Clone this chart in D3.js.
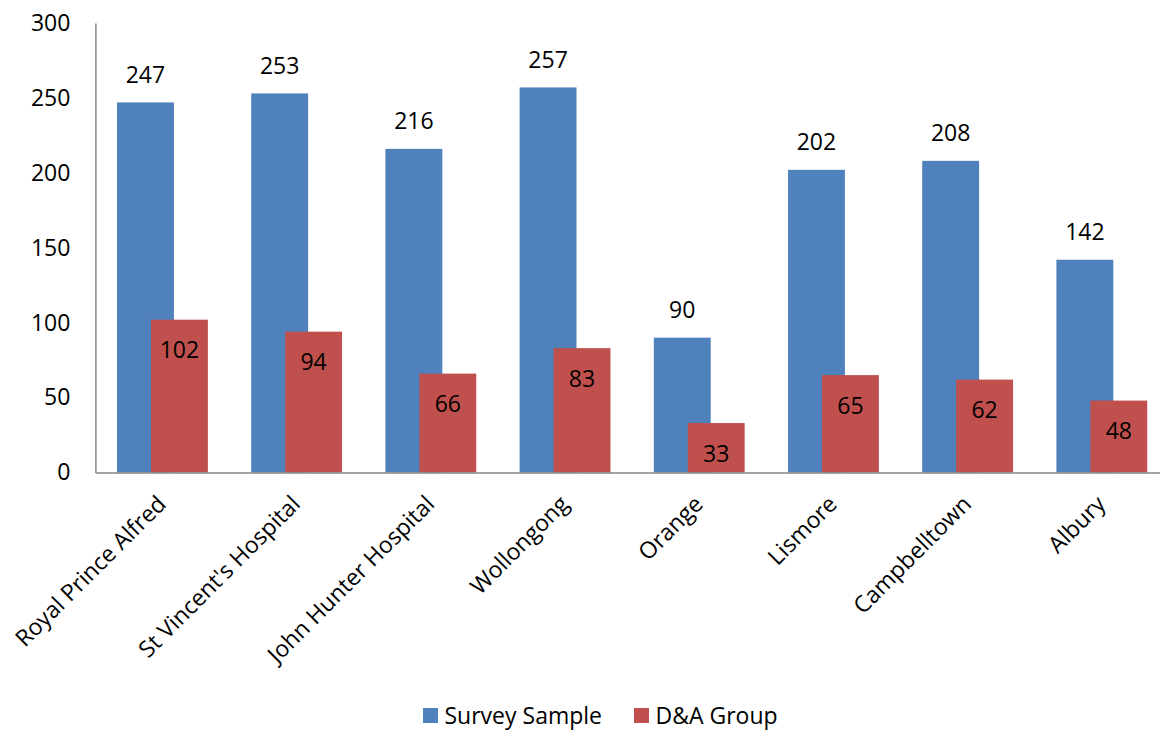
<!DOCTYPE html>
<html>
<head>
<meta charset="utf-8">
<script src="https://cdn.jsdelivr.net/npm/d3@7"></script>
<style>
  html, body { margin: 0; padding: 0; background: #fff; }
  svg { display: block; font-family: "Open Sans", "Noto Sans", sans-serif; }
</style>
</head>
<body>
<svg id="chart" width="1160" height="731"></svg>
<script>
const categories = ["Royal Prince Alfred", "St Vincent's Hospital", "John Hunter Hospital", "Wollongong", "Orange", "Lismore", "Campbelltown", "Albury"];
const surveySample = [247, 253, 216, 257, 90, 202, 208, 142];
const daGroup = [102, 94, 66, 83, 33, 65, 62, 48];
const seriesNames = ["Survey Sample", "D&A Group"];
const seriesColors = ["#4F81BD", "#C0504D"];
const yTicks = [0, 50, 100, 150, 200, 250, 300];

(function () {
const svg = d3.select("#chart");
const mLeft = 95.4, mRight = 1169, mTop = 23, mBottom = 472.5;
const fs = 23;

const x = d3.scaleBand().domain(categories).range([mLeft, mRight]).padding(0);
const y = d3.scaleLinear().domain([0, 300]).range([mBottom, mTop]);
// position of each series bar within a category band (fractions of band)
const sub = d3.scaleOrdinal().domain(seriesNames).range([0.161, 0.414]);
const subW = 0.424;

// y axis
const yAxis = d3.axisLeft(y).tickValues(yTicks).tickSize(0).tickPadding(25);
const gy = svg.append("g").attr("transform", `translate(${mLeft},0)`).call(yAxis);
gy.select(".domain").attr("stroke", "#868686").attr("stroke-width", 1.5);
gy.selectAll("text").attr("font-size", fs).attr("fill", "#000").attr("font-family", "Open Sans");

// bars
const data = [surveySample, daGroup];
data.forEach((vals, si) => {
  const name = seriesNames[si];
  svg.append("g").selectAll("rect").data(categories).join("rect")
    .attr("x", c => x(c) + sub(name) * x.bandwidth())
    .attr("width", subW * x.bandwidth())
    .attr("y", (c, i) => y(vals[i]))
    .attr("height", (c, i) => y(0) - y(vals[i]))
    .attr("fill", seriesColors[si]);
});

// x axis
const xAxis = d3.axisBottom(x).tickSize(0).tickFormat("");
const gx = svg.append("g").attr("transform", `translate(0,${mBottom})`).call(xAxis);
gx.select(".domain").attr("stroke", "#868686").attr("stroke-width", 1.5);

// category labels
svg.append("g").selectAll("text").data(categories).join("text")
  .attr("transform", c => `translate(${x(c) + x.bandwidth() / 2 + 5},${mBottom + 33}) rotate(-45)`)
  .attr("text-anchor", "end")
  .attr("font-size", fs)
  .attr("fill", "#000")
  .text(c => c);

// value labels
svg.append("g").selectAll("text").data(categories).join("text")
  .attr("x", c => x(c) + (sub(seriesNames[0]) + subW / 2) * x.bandwidth())
  .attr("y", (c, i) => y(surveySample[i]) - 19.5)
  .attr("text-anchor", "middle")
  .attr("font-size", fs)
  .attr("fill", "#000")
  .text((c, i) => surveySample[i]);

svg.append("g").selectAll("text").data(categories).join("text")
  .attr("x", c => x(c) + (sub(seriesNames[1]) + subW / 2) * x.bandwidth())
  .attr("y", (c, i) => y(daGroup[i]) + 38.5)
  .attr("text-anchor", "middle")
  .attr("font-size", fs)
  .attr("fill", "#000")
  .text((c, i) => daGroup[i]);

// legend
const legendX = [423, 634];
const lg = svg.append("g");
seriesNames.forEach((n, i) => {
  lg.append("rect").attr("x", legendX[i]).attr("y", 708).attr("width", 15).attr("height", 15).attr("fill", seriesColors[i]);
  lg.append("text").attr("x", legendX[i] + 21.5).attr("y", 723.5).attr("font-size", fs).attr("fill", "#000").text(n);
});
})();
</script>
</body>
</html>
